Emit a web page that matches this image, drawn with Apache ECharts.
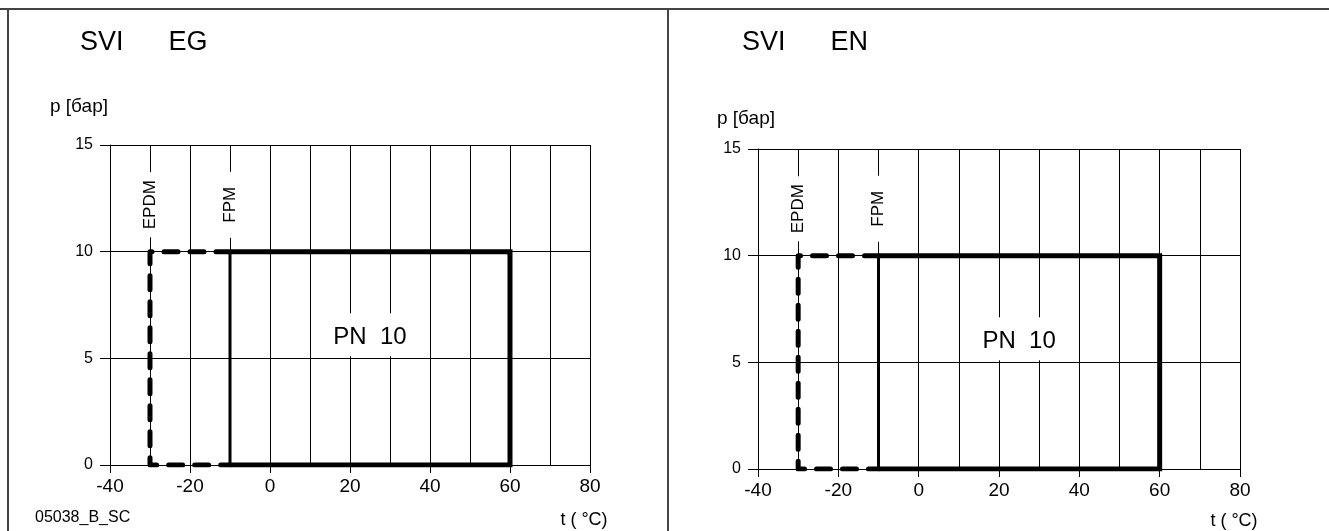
<!DOCTYPE html>
<html><head><meta charset="utf-8">
<script src="https://cdn.jsdelivr.net/npm/echarts@6/dist/echarts.min.js"></script>
<style>html,body{margin:0;padding:0;background:#fff}#c{width:1329px;height:531px}</style>
</head><body><div id="c"></div>
<script>
// ---- data ----
const panelTitles = ['SVI      EG', 'SVI      EN'];
const yAxisTitle = 'p [бар]';
const xAxisTitle = 't ( °C)';
const drawingCode = '05038_B_SC';
const xTickValues = [-40, -20, 0, 20, 40, 60, 80];
const xTickLabels = ['-40', '-20', '0', '20', '40', '60', '80'];
const yTickValues = [0, 5, 10, 15];
const yTickLabels = ['0', '5', '10', '15'];
const epdmLine = [[-10, 10], [-30, 10], [-30, 0], [-10, 0]];
const fpmLine = [[-10, 10], [60, 10], [60, 0], [-10, 0]];
const fpmLeftEdge = [[-10, 0], [-10, 10]];
const epdmLabel = [[-30, 12.2, 'EPDM']];
const fpmLabel = [[-10, 12.2, 'FPM']];
const pnLabel = [[25, 6, 'PN  10']];
const pnLabelBack = [[25, 6.1, ' ']];

// ---- layout ----
const FONT = 'Liberation Sans';
const grids = [
  { left: 110, top: 145, width: 480, height: 320 },
  { left: 758, top: 149, width: 482, height: 320 }
];
const chart = echarts.init(document.getElementById('c'), null, { renderer: 'canvas' });

const xAxes = [], yAxes = [], series = [];
grids.forEach((g, i) => {
  xAxes.push({
    gridIndex: i, type: 'value', min: xTickValues[0], max: xTickValues[xTickValues.length - 1],
    interval: xTickValues[1] - xTickValues[0],
    axisLine: { show: true, onZero: false, lineStyle: { color: '#000', width: 1 } },
    axisTick: { show: true, length: 8, lineStyle: { color: '#000', width: 1 } },
    axisLabel: {
      margin: 12, fontSize: 19, color: '#000', fontFamily: FONT,
      formatter: v => { const k = xTickValues.indexOf(v); return k >= 0 ? xTickLabels[k] : ''; }
    },
    splitLine: { show: true, lineStyle: { color: '#000', width: 1 } },
    minorTick: { show: false, splitNumber: 2 },
    minorSplitLine: { show: true, lineStyle: { color: '#000', width: 1 } }
  });
  yAxes.push({
    gridIndex: i, type: 'value', min: yTickValues[0], max: yTickValues[yTickValues.length - 1],
    interval: yTickValues[1] - yTickValues[0],
    axisLine: { show: true, onZero: false, lineStyle: { color: '#000', width: 1 } },
    axisTick: { show: true, length: 10, lineStyle: { color: '#000', width: 1 } },
    axisLabel: {
      margin: 17, fontSize: 16, color: '#000', fontFamily: FONT,
      formatter: v => { const k = yTickValues.indexOf(v); return k >= 0 ? yTickLabels[k] : ''; }
    },
    splitLine: { show: true, lineStyle: { color: '#000', width: 1 } }
  });
  series.push({
    type: 'line', xAxisIndex: i, yAxisIndex: i, data: epdmLine, showSymbol: false, symbol: 'none',
    lineStyle: { color: '#000', width: 5, type: [14, 12], cap: 'round', join: 'round' }, z: 3
  });
  series.push({
    type: 'line', xAxisIndex: i, yAxisIndex: i, data: fpmLeftEdge, showSymbol: false, symbol: 'none',
    lineStyle: { color: '#000', width: 3 }, z: 3
  });
  series.push({
    type: 'line', xAxisIndex: i, yAxisIndex: i, data: fpmLine, showSymbol: false, symbol: 'none',
    lineStyle: { color: '#000', width: 5, join: 'miter' }, z: 4
  });
  const lbl = (data, rotate, padding, fontSize, extra, z) => ({
    type: 'scatter', xAxisIndex: i, yAxisIndex: i, data: data, symbolSize: 1,
    itemStyle: { color: 'rgba(0,0,0,0)' }, z: z || 2, silent: true,
    label: Object.assign({
      show: true, position: 'inside', rotate: rotate, formatter: p => p.data[2],
      fontFamily: FONT, fontSize: fontSize, lineHeight: fontSize, color: '#000',
      textBorderWidth: 0, opacity: 1,
      backgroundColor: '#fff', padding: padding
    }, extra || {})
  });
  series.push(lbl(epdmLabel, 90, [1, 8, 1, 8], 17));
  series.push(lbl(fpmLabel, 90, [1, 15, 1, 15], 17));
  series.push(lbl(pnLabelBack, 0, 0, 24, { width: 90, height: 43, lineHeight: 43, align: 'center', verticalAlign: 'middle' }, 2));
  series.push(lbl(pnLabel, 0, 0, 24, { backgroundColor: 'transparent' }, 2.5));
});

const txt = (x, y, text, size, extra) => ({
  type: 'text', x: x, y: y, silent: true,
  style: Object.assign({
    text: text, fontSize: size, fontFamily: FONT, fontWeight: 'normal',
    fill: '#000', textVerticalAlign: 'middle'
  }, extra || {})
});
const line = (x1, y1, x2, y2) => ({
  type: 'line', silent: true, shape: { x1, y1, x2, y2 }, style: { stroke: '#444', lineWidth: 2 }
});

chart.setOption({
  animation: false,
  backgroundColor: '#fff',
  grid: grids.map(g => Object.assign({ containLabel: false }, g)),
  xAxis: xAxes, yAxis: yAxes, series: series,
  graphic: [
    line(0, 9, 1329, 9), line(8, 9, 8, 531), line(668, 9, 668, 531),
    txt(80, 43, panelTitles[0], 27),
    txt(742, 43, panelTitles[1], 27),
    txt(50, 107, yAxisTitle, 19),
    txt(717, 119, yAxisTitle, 19),
    txt(35, 518, drawingCode, 16),
    txt(584, 520, xAxisTitle, 18, { textAlign: 'center' }),
    txt(1234, 521, xAxisTitle, 18, { textAlign: 'center' })
  ]
});
</script></body></html>
